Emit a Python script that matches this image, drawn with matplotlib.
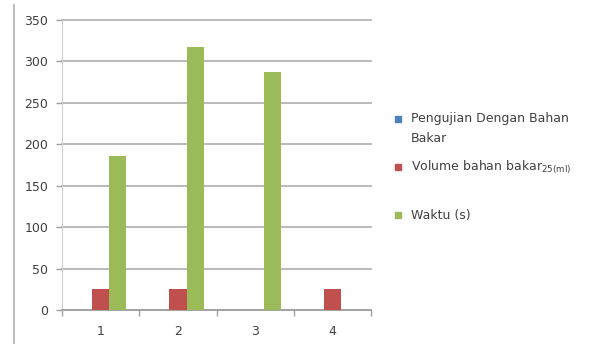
import numpy as np
import matplotlib
matplotlib.use('Agg')
import matplotlib.pyplot as plt
from matplotlib.lines import Line2D

# nilai hasil pengujian per percobaan
percobaan = ['1', '2', '3', '4']
pengujian = [0, 0, 0, 0]
volume = [25, 25, 0, 25]
waktu = [186, 317, 287, 0]

labels = ['Pengujian Dengan Bahan\nBakar',
          'Volume bahan bakar$\\mathregular{_{25(ml)}}$',
          'Waktu (s)']
colors = ['#4F81BD', '#C0504D', '#9BBB59']

W, H = 596, 344
fig = plt.figure(figsize=(W / 100, H / 100), dpi=100)
ax = fig.add_axes([0.104, 0.099, 0.519, 0.843])

x = np.arange(len(percobaan))
w = 1 / 4.5
for i, (vals, c) in enumerate(zip([pengujian, volume, waktu], colors)):
    ax.bar(x + (i - 1) * w, vals, w, color=c, zorder=3)

ax.set_xlim(-0.5, len(percobaan) - 0.5)
ax.set_ylim(0, 350)
ax.set_yticks(range(0, 351, 50))
ax.set_xticks(x)
ax.set_xticklabels(percobaan)
ax.set_xticks(np.arange(-0.5, len(percobaan)), minor=True)
ax.tick_params(axis='x', which='major', length=0, pad=11)
ax.tick_params(axis='x', which='minor', length=4, color='#a0a0a0', width=1)
ax.tick_params(axis='y', length=4, color='#a0a0a0', width=1, pad=6)
ax.tick_params(labelsize=9, labelcolor='#404040')

ax.grid(axis='y', color='#b4b4b4', linewidth=1.3, zorder=0)
for gl in ax.get_ygridlines():
    gl.set_clip_on(False)
for s in ['top', 'right']:
    ax.spines[s].set_visible(False)
ax.spines['left'].set_color('#d0d0d0')
ax.spines['bottom'].set_color('#a0a0a0')
ax.spines['bottom'].set_linewidth(1.2)

# legenda di kanan: penanda kotak sejajar baris pertama tiap label
y0, step, line_h = 119, 48, 19
for i, (lab, c) in enumerate(zip(labels, colors)):
    yy = y0 + i * step
    fig.add_artist(Line2D([398 / W], [1 - yy / H], marker='s', markersize=5,
                          linestyle='none', markerfacecolor=c, markeredgecolor=c))
    for j, part in enumerate(lab.split('\n')):
        fig.text(411 / W, 1 - (yy + j * line_h) / H, part, fontsize=9,
                 color='#404040', va='center', ha='left')

# garis tepi kiri bingkai grafik
fig.add_artist(Line2D([0.024, 0.024], [0, 0.985], color='#b0b0b0', linewidth=1.2))

fig.savefig('out.png', dpi=100)
